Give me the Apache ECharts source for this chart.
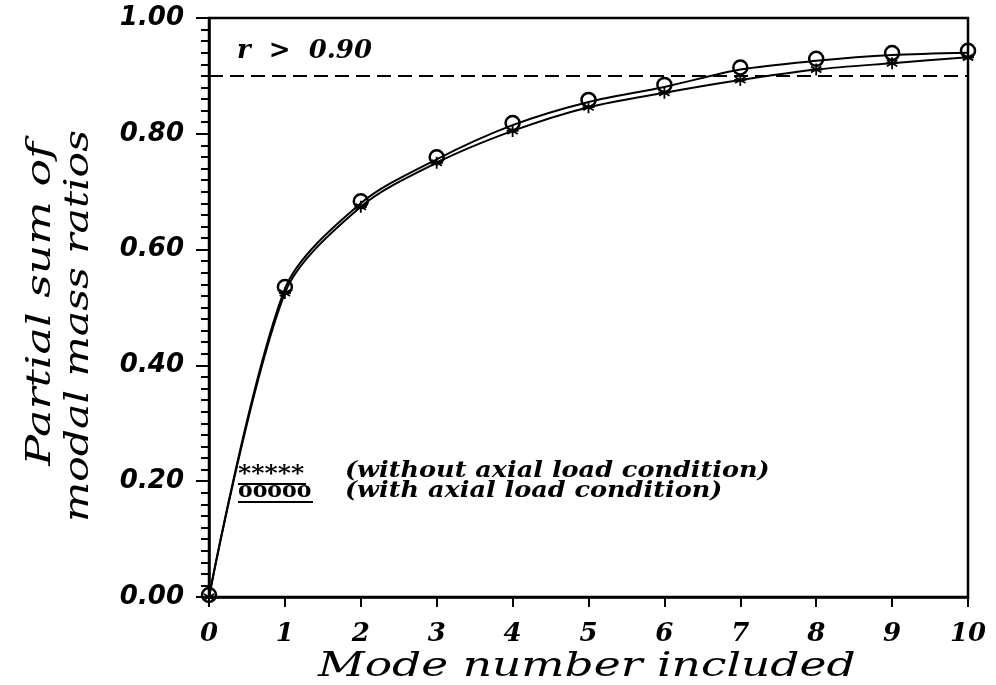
<!DOCTYPE html>
<html>
<head>
<meta charset="utf-8">
<script src="https://cdn.jsdelivr.net/npm/echarts@6/dist/echarts.min.js"></script>
<style>
  html, body { margin: 0; padding: 0; background: #fff; }
  #chart { width: 996px; height: 685px; }
</style>
</head>
<body>
<div id="chart"></div>
<script>
// mode numbers on the x axis
const modes = [0, 1, 2, 3, 4, 5, 6, 7, 8, 9, 10];
// partial sums
const withoutAxial = [0, 0.525, 0.674, 0.750, 0.805, 0.846, 0.871, 0.893, 0.911, 0.922, 0.932];
const withAxial = [0, 0.532, 0.680, 0.756, 0.815, 0.855, 0.881, 0.911, 0.926, 0.936, 0.940];
const threshold = 0.9;
const seriesNames = ['(without axial load condition)', '(with axial load condition)'];
const xTitle = 'Mode number included';
const yTitle = ['Partial sum of', 'modal mass ratios'];

const serifFont = '"DejaVu Serif", serif';
const sansFont = '"DejaVu Sans", sans-serif';
const asterisk = 'path://M0,-6L0,6M-5.2,-3L5.2,3M-5.2,3L5.2,-3M-6,0L6,0';

const chart = echarts.init(document.getElementById('chart'), null, { renderer: 'canvas' });

chart.setOption({
  animation: false,
  backgroundColor: '#fff',
  grid: {
    left: 209,
    right: 28,
    top: 18,
    bottom: 88,
    outerBoundsMode: 'none',
    show: true,
    borderColor: '#000',
    borderWidth: 2.5,
  },
  xAxis: {
    type: 'value',
    min: 0,
    max: 10,
    interval: 1,
    axisLine: { lineStyle: { color: '#000', width: 2.5 } },
    axisTick: { length: 10, lineStyle: { color: '#000', width: 2 } },
    axisLabel: {
      margin: 24,
      fontFamily: serifFont,
      fontStyle: 'italic',
      fontWeight: 'bold',
      fontSize: 26,
      color: '#000',
    },
    splitLine: { show: false },
  },
  yAxis: {
    type: 'value',
    min: 0,
    max: 1,
    interval: 0.2,
    axisLine: { show: true, lineStyle: { color: '#000', width: 2.5 } },
    axisTick: { length: 13, lineStyle: { color: '#000', width: 2 } },
    minorTick: { show: true, splitNumber: 10, length: 8, lineStyle: { color: '#000', width: 2 } },
    axisLabel: {
      margin: 25,
      formatter: (v) => v.toFixed(2),
      fontFamily: sansFont,
      fontStyle: 'italic',
      fontWeight: 'bold',
      fontSize: 26,
      color: '#000',
    },
    splitLine: { show: false },
  },
  series: [
    {
      name: seriesNames[0],
      type: 'line',
      smooth: 0.3,
      data: modes.map((m, i) => [m, withoutAxial[i]]),
      symbol: asterisk,
      symbolSize: 12,
      lineStyle: { color: '#000', width: 2 },
      itemStyle: { color: '#000', borderColor: '#000', borderWidth: 1.8 },
      markLine: {
        silent: true,
        symbol: 'none',
        data: [{ yAxis: threshold }],
        lineStyle: { color: '#000', width: 2, type: [14, 7] },
        label: {
          position: 'insideStartTop',
          distance: [28, 12],
          formatter: 'r  >  ' + threshold.toFixed(2),
          fontFamily: serifFont,
          fontStyle: 'italic',
          fontWeight: 'bold',
          fontSize: 26,
          color: '#000',
        },
      },
    },
    {
      name: seriesNames[1],
      type: 'line',
      smooth: 0.3,
      data: modes.map((m, i) => [m, withAxial[i]]),
      symbol: 'circle',
      symbolSize: 14,
      symbolOffset: [0, -2],
      lineStyle: { color: '#000', width: 2 },
      itemStyle: { color: 'rgba(0,0,0,0)', borderColor: '#000', borderWidth: 2.5 },
    },
  ],
  graphic: [
    // axis titles (stretched to match the wide original lettering)
    {
      type: 'text',
      left: 318,
      top: 650,
      scaleX: 1.34,
      style: { text: xTitle, font: 'italic 34px ' + serifFont, fill: '#000' },
    },
    {
      type: 'text',
      left: 24,
      top: 142,
      rotation: Math.PI / 2,
      scaleX: 1.35,
      style: { text: yTitle[0], font: 'italic 34px ' + serifFont, fill: '#000' },
    },
    {
      type: 'text',
      left: 62,
      top: 130,
      rotation: Math.PI / 2,
      scaleX: 1.25,
      style: { text: yTitle[1], font: 'italic 34px ' + serifFont, fill: '#000' },
    },
    // legend written as text
    {
      type: 'text',
      left: 238,
      top: 463,
      scaleX: 1.15,
      style: { text: '*****', font: 'bold 22px ' + serifFont, fill: '#000' },
    },
    { type: 'rect', left: 238, top: 483, shape: { width: 68, height: 2 }, style: { fill: '#000' } },
    {
      type: 'text',
      left: 238,
      top: 480,
      style: { text: 'ooooo', font: 'bold 22px ' + serifFont, fill: '#000' },
    },
    { type: 'rect', left: 238, top: 501, shape: { width: 75, height: 2 }, style: { fill: '#000' } },
    {
      type: 'text',
      left: 345,
      top: 460,
      scaleX: 1.16,
      style: { text: seriesNames[0], font: 'italic bold 22px ' + serifFont, fill: '#000' },
    },
    {
      type: 'text',
      left: 345,
      top: 480,
      scaleX: 1.16,
      style: { text: seriesNames[1], font: 'italic bold 22px ' + serifFont, fill: '#000' },
    },
  ],
});
</script>
</body>
</html>
